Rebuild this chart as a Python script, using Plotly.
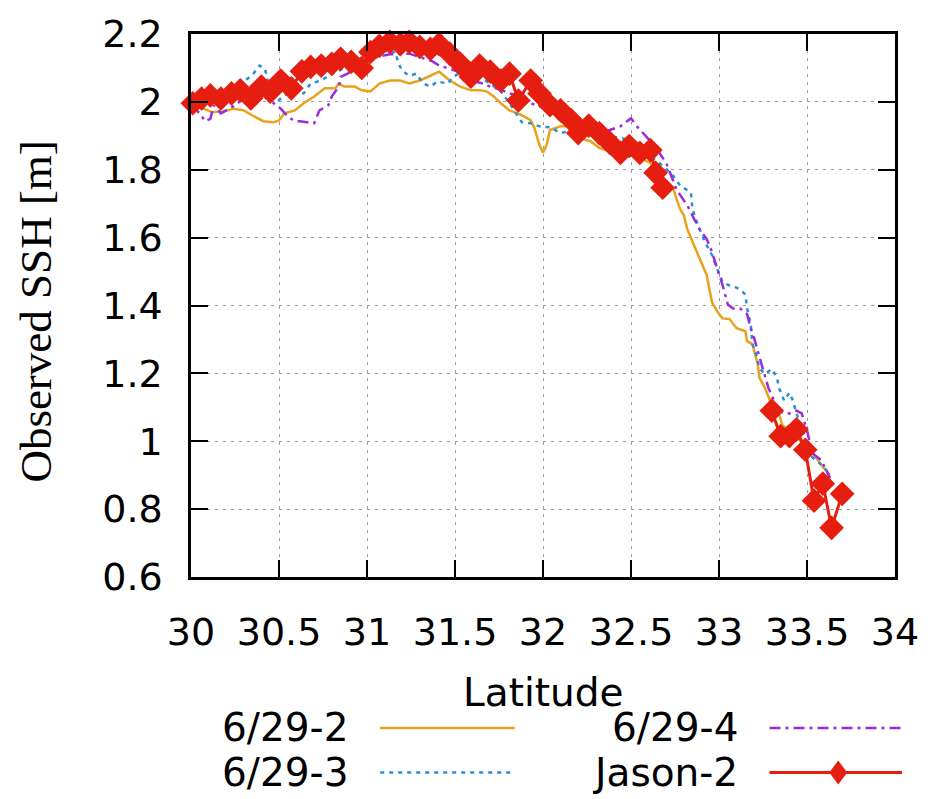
import plotly.graph_objects as go

# ---------------- data ----------------
lat_6292 = [30.00, 30.07, 30.12, 30.19, 30.24, 30.30, 30.36, 30.41, 30.47, 30.50, 30.53, 30.59, 30.64, 30.70,
            30.76, 30.82, 30.84, 30.87, 30.93, 30.97, 31.02, 31.07, 31.13, 31.19, 31.24, 31.30, 31.36, 31.41,
            31.47, 31.53, 31.59, 31.64, 31.68, 31.72, 31.76, 31.81, 31.87, 31.93, 31.95, 31.98, 32.00, 32.02,
            32.04, 32.10, 32.15, 32.21, 32.27, 32.32, 32.38, 32.44, 32.53, 32.61, 32.68, 32.74, 32.76, 32.78,
            32.80, 32.82, 32.85, 32.89, 32.93, 32.96, 32.99, 33.02, 33.06, 33.10, 33.15, 33.16, 33.19, 33.22,
            33.23, 33.26, 33.29, 33.34, 33.36, 33.40, 33.44, 33.50, 33.55, 33.59, 33.63]
ssh_6292 = [2.000, 1.980, 1.970, 1.972, 1.980, 1.975, 1.957, 1.943, 1.940, 1.945, 1.966, 1.975, 1.996, 2.016,
            2.040, 2.040, 2.054, 2.045, 2.045, 2.034, 2.031, 2.054, 2.063, 2.063, 2.054, 2.063, 2.077, 2.089,
            2.063, 2.045, 2.034, 2.034, 2.031, 2.016, 1.996, 1.975, 1.963, 1.946, 1.925, 1.873, 1.850, 1.873,
            1.917, 1.928, 1.928, 1.893, 1.884, 1.864, 1.855, 1.844, 1.840, 1.820, 1.762, 1.745, 1.712, 1.683,
            1.666, 1.625, 1.587, 1.537, 1.490, 1.410, 1.382, 1.362, 1.360, 1.333, 1.324, 1.295, 1.286, 1.228,
            1.187, 1.158, 1.120, 1.082, 1.047, 1.032, 1.012, 0.983, 0.953, 0.924, 0.900]

lat_6293 = [30.00, 30.05, 30.10, 30.15, 30.20, 30.25, 30.30, 30.35, 30.39, 30.42, 30.45, 30.49, 30.51, 30.55,
            30.60, 30.64, 30.68, 30.74, 30.80, 30.84, 30.89, 30.95, 31.01, 31.07, 31.13, 31.16, 31.18, 31.20,
            31.24, 31.28, 31.32, 31.36, 31.40, 31.46, 31.49, 31.52, 31.55, 31.59, 31.64, 31.70, 31.76, 31.81,
            31.85, 31.88, 31.93, 31.98, 32.04, 32.10, 32.15, 32.21, 32.27, 32.32, 32.38, 32.45, 32.53, 32.61,
            32.68, 32.74, 32.78, 32.84, 32.85, 32.88, 32.92, 32.96, 32.99, 33.02, 33.05, 33.09, 33.12, 33.15,
            33.16, 33.18, 33.19, 33.21, 33.23, 33.26, 33.30, 33.33, 33.34, 33.37, 33.40, 33.42, 33.44, 33.47,
            33.53, 33.57, 33.61, 33.63]
ssh_6293 = [2.000, 1.990, 2.000, 2.010, 2.020, 2.040, 2.060, 2.080, 2.107, 2.098, 2.030, 2.000, 2.010, 2.025,
            2.030, 2.025, 2.054, 2.063, 2.083, 2.090, 2.112, 2.136, 2.162, 2.162, 2.142, 2.148, 2.112, 2.092,
            2.077, 2.083, 2.054, 2.045, 2.060, 2.054, 2.074, 2.083, 2.063, 2.074, 2.074, 2.054, 2.031, 1.996,
            1.963, 1.940, 1.937, 1.928, 1.925, 1.908, 1.914, 1.902, 1.914, 1.902, 1.899, 1.893, 1.879, 1.840,
            1.812, 1.782, 1.753, 1.733, 1.683, 1.637, 1.587, 1.549, 1.508, 1.470, 1.461, 1.455, 1.447, 1.432,
            1.391, 1.345, 1.286, 1.257, 1.216, 1.198, 1.213, 1.187, 1.158, 1.120, 1.143, 1.120, 1.082, 1.041,
            0.953, 0.936, 0.915, 0.895]

lat_6294 = [30.00, 30.05, 30.08, 30.11, 30.13, 30.17, 30.20, 30.25, 30.30, 30.38, 30.43, 30.47, 30.51, 30.55,
            30.59, 30.62, 30.66, 30.70, 30.73, 30.78, 30.80, 30.84, 30.85, 30.89, 30.93, 31.00, 31.06, 31.13,
            31.24, 31.37, 31.41, 31.47, 31.51, 31.55, 31.59, 31.66, 31.70, 31.77, 31.81, 31.85, 31.93, 31.98,
            32.04, 32.11, 32.21, 32.28, 32.38, 32.44, 32.48, 32.50, 32.53, 32.57, 32.61, 32.65, 32.70, 32.76,
            32.82, 32.86, 32.90, 32.93, 32.96, 32.99, 33.02, 33.05, 33.08, 33.12, 33.16, 33.18, 33.20, 33.22,
            33.25, 33.28, 33.32, 33.36, 33.40, 33.44, 33.47, 33.50, 33.53, 33.58, 33.61, 33.63]
ssh_6294 = [1.990, 1.966, 1.943, 1.950, 1.990, 1.966, 1.975, 1.990, 2.010, 2.025, 2.016, 1.996, 1.980, 1.957,
            1.943, 1.943, 1.940, 1.937, 1.975, 1.990, 2.016, 2.045, 2.074, 2.083, 2.103, 2.120, 2.133, 2.140,
            2.142, 2.120, 2.107, 2.098, 2.090, 2.074, 2.063, 2.054, 2.045, 2.034, 2.025, 2.020, 1.996, 1.987,
            1.975, 1.946, 1.917, 1.914, 1.917, 1.928, 1.943, 1.952, 1.930, 1.908, 1.884, 1.858, 1.820, 1.740,
            1.695, 1.654, 1.616, 1.596, 1.558, 1.508, 1.461, 1.403, 1.391, 1.391, 1.374, 1.333, 1.304, 1.266,
            1.208, 1.158, 1.111, 1.085, 1.082, 1.090, 1.082, 1.032, 0.965, 0.945, 0.915, 0.890]

lat_jason = [30.01, 30.06, 30.11, 30.17, 30.23, 30.28, 30.34, 30.40, 30.45, 30.51, 30.57, 30.63, 30.68, 30.74,
             30.80, 30.85, 30.91, 30.97, 31.02, 31.07, 31.13, 31.19, 31.24, 31.30, 31.36, 31.41, 31.47, 31.53,
             31.59, 31.64, 31.70, 31.76, 31.81, 31.86, 31.93, 31.98, 32.04, 32.10, 32.16, 32.20, 32.26, 32.32,
             32.38, 32.44, 32.49, 32.55, 32.61, 32.64, 32.68, None,
             33.30, 33.35, 33.40, 33.44, 33.49, 33.54, 33.59, 33.64, 33.70]
ssh_jason = [1.996, 2.010, 2.019, 2.010, 2.025, 2.034, 2.010, 2.045, 2.030, 2.063, 2.040, 2.090, 2.103, 2.107,
             2.112, 2.127, 2.118, 2.100, 2.147, 2.165, 2.177, 2.170, 2.177, 2.162, 2.156, 2.170, 2.142, 2.112,
             2.074, 2.107, 2.089, 2.063, 2.083, 2.004, 2.063, 2.025, 1.990, 1.975, 1.946, 1.908, 1.930, 1.908,
             1.879, 1.850, 1.870, 1.850, 1.858, 1.791, 1.747, None,
             1.090, 1.015, 1.015, 1.035, 0.975, 0.825, 0.875, 0.745, 0.845]

x_ticks = [30, 30.5, 31, 31.5, 32, 32.5, 33, 33.5, 34]
x_tick_text = ["30", "30.5", "31", "31.5", "32", "32.5", "33", "33.5", "34"]
y_ticks = [0.6, 0.8, 1.0, 1.2, 1.4, 1.6, 1.8, 2.0, 2.2]
y_tick_text = ["0.6", "0.8", "1", "1.2", "1.4", "1.6", "1.8", "2", "2.2"]

series_names = ["6/29-2", "6/29-3", "6/29-4", "Jason-2"]

# ---------------- style ----------------
C_ORANGE = "#E9A21C"
C_BLUE = "#2A8FD0"
C_PURPLE = "#9B2BE0"
C_RED = "#E51E10"
SANS = "DejaVu Sans"
SERIF = "Liberation Serif, Times New Roman, serif"
DASH_BLUE = "4px,5px"
DASH_PURPLE = "11px,5px,3px,5px"

fig = go.Figure()
fig.add_trace(go.Scatter(x=lat_6292, y=ssh_6292, mode="lines", name=series_names[0],
                         line=dict(color=C_ORANGE, width=2.5)))
fig.add_trace(go.Scatter(x=lat_6293, y=ssh_6293, mode="lines", name=series_names[1],
                         line=dict(color=C_BLUE, width=2.5, dash=DASH_BLUE)))
fig.add_trace(go.Scatter(x=lat_6294, y=ssh_6294, mode="lines", name=series_names[2],
                         line=dict(color=C_PURPLE, width=2.5, dash=DASH_PURPLE)))
fig.add_trace(go.Scatter(x=lat_jason, y=ssh_jason, mode="lines+markers", name=series_names[3],
                         connectgaps=False, cliponaxis=False,
                         line=dict(color=C_RED, width=3),
                         marker=dict(symbol="diamond", size=19, color=C_RED, line=dict(width=0))))

L, R, T, B = 191, 33, 30, 222
W, H = 931, 799
PW, PH = W - L - R, H - T - B


def px(xp):
    return (xp - L) / PW


def py(yp):
    return (H - B - yp) / PH


axis_common = dict(showline=True, linecolor="black", linewidth=2.5, mirror="ticks",
                   ticks="inside", ticklen=17, tickwidth=2, tickcolor="black",
                   showgrid=True, gridcolor="#9a9a9a", gridwidth=1, griddash="3px,5px",
                   zeroline=False, tickfont=dict(family=SANS, size=38, color="black"))

fig.update_xaxes(range=[30, 34], tickvals=x_ticks, ticktext=x_tick_text,
                 ticklabelstandoff=20, **axis_common)
fig.update_yaxes(range=[0.6, 2.2], tickvals=y_ticks, ticktext=y_tick_text,
                 ticklabelstandoff=18, **axis_common)

annotations = [
    dict(text="Observed SSH [m]", x=px(35), y=py(310), xref="paper", yref="paper",
         textangle=-90, showarrow=False, xanchor="center", yanchor="middle",
         font=dict(family=SERIF, size=45, color="black")),
    dict(text="Latitude", x=px(545), y=py(693), xref="paper", yref="paper",
         showarrow=False, xanchor="center", yanchor="middle",
         font=dict(family=SANS, size=39, color="black")),
]
leg_rows = [729, 774]
leg_items = [
    (series_names[0], 351, leg_rows[0], 381, 516, C_ORANGE, "solid"),
    (series_names[1], 351, leg_rows[1], 381, 516, C_BLUE, DASH_BLUE),
    (series_names[2], 742, leg_rows[0], 772, 905, C_PURPLE, DASH_PURPLE),
    (series_names[3], 742, leg_rows[1], 772, 905, C_RED, "solid"),
]
shapes = []
for name, tx, ty, x0, x1, col, dash in leg_items:
    annotations.append(dict(text=name, x=px(tx), y=py(ty), xref="paper", yref="paper",
                            showarrow=False, xanchor="right", yanchor="middle",
                            font=dict(family=SANS, size=39, color="black")))
    shapes.append(dict(type="line", xref="paper", yref="paper", x0=px(x0), x1=px(x1),
                       y0=py(ty), y1=py(ty),
                       line=dict(color=col, width=3 if name == "Jason-2" else 2.5, dash=dash)))
# diamond in legend
shapes.append(dict(type="path", xref="paper", yref="paper", xsizemode="pixel", ysizemode="pixel",
                   xanchor=px(841), yanchor=py(leg_rows[1]),
                   path="M0,-12 L9,0 L0,12 L-9,0 Z", fillcolor=C_RED, line=dict(width=0)))

fig.update_layout(width=W, height=H, margin=dict(l=L, r=R, t=T, b=B),
                  paper_bgcolor="white", plot_bgcolor="white", showlegend=False,
                  annotations=annotations, shapes=shapes)

fig.write_html("out.html")
